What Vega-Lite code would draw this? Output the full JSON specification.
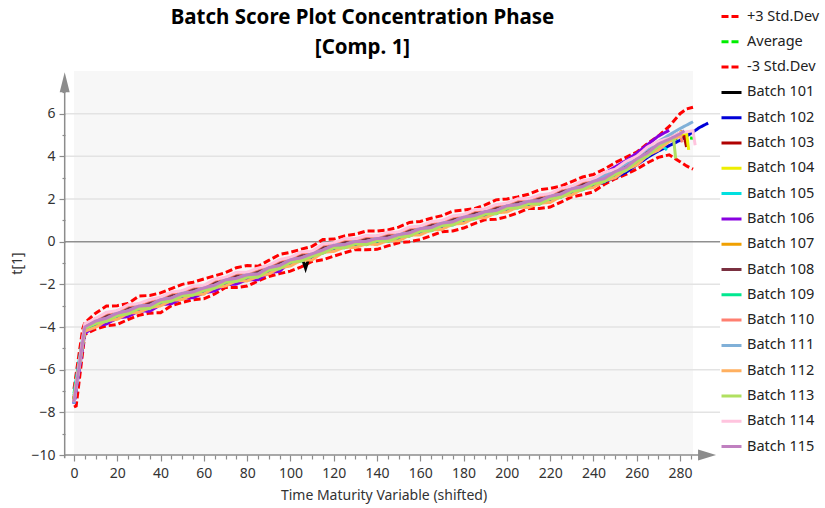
{
"$schema": "https://vega.github.io/schema/vega-lite/v6.json",
"width": 619, "height": 384,
"autosize": {"type": "none"},
"padding": {"left": 74, "top": 71, "right": 132, "bottom": 53},
"background": "#ffffff",
"config": {"view": {"fill": "#f7f7f7", "stroke": null}, "font": "Noto Sans"},
"title": {"text": ["Batch Score Plot Concentration Phase", "[Comp. 1]"], "font": "Noto Sans", "fontSize": 20.5, "fontWeight": "bold", "color": "#000000", "lineHeight": 30, "anchor": "middle", "dx": -21, "dy": 65, "offset": 12},
"resolve": {"axis": {"x": "independent", "y": "independent"}},
"datasets": {"s": [
{"t":0,"p":-6.9,"a":-7.35,"m":-7.75,"101":-7.4,"102":-7.6,"103":-7.3,"104":-7.5,"105":-7.1,"106":-7.6,"107":-7.4,"108":-7.5,"109":-7.2,"110":-7.5,"111":-7.6,"112":-7.3,"113":-7.4,"114":-7.5,"115":-7.5},
{"t":1,"m":-7.7},
{"t":4,"p":-4.1},
{"t":5,"p":-3.8,"a":-4.05,"m":-4.35,"101":-4.05,"102":-4.1,"103":-3.95,"104":-4.15,"105":-3.9,"106":-4.3,"107":-4.0,"108":-3.95,"109":-4.2,"110":-3.9,"111":-4.1,"112":-4.2,"113":-4.05,"114":-3.85,"115":-4.0},
{"t":10,"p":-3.35,"a":-3.75,"m":-4.1,"101":-3.64,"102":-3.95,"103":-3.65,"104":-3.78,"105":-3.66,"106":-3.95,"107":-3.82,"108":-3.62,"109":-3.84,"110":-3.65,"111":-3.7,"112":-4.01,"113":-3.83,"114":-3.6,"115":-3.72},
{"t":15,"p":-3.02,"a":-3.55,"m":-3.95,"101":-3.55,"102":-3.64,"103":-3.55,"104":-3.69,"105":-3.35,"106":-3.86,"107":-3.49,"108":-3.5,"109":-3.74,"110":-3.35,"111":-3.6,"112":-3.7,"113":-3.73,"114":-3.31,"115":-3.59},
{"t":20,"p":-3.0,"a":-3.38,"m":-3.88,"101":-3.27,"102":-3.58,"103":-3.28,"104":-3.41,"105":-3.29,"106":-3.58,"107":-3.45,"108":-3.25,"109":-3.47,"110":-3.28,"111":-3.33,"112":-3.64,"113":-3.46,"114":-3.23,"115":-3.35},
{"t":25,"p":-2.9,"a":-3.2,"m":-3.65,"101":-3.2,"102":-3.29,"103":-3.2,"104":-3.34,"105":-3.0,"106":-3.51,"107":-3.14,"108":-3.15,"109":-3.39,"110":-3.0,"111":-3.25,"112":-3.35,"113":-3.38,"114":-2.96,"115":-3.24},
{"t":30,"p":-2.55,"a":-3.05,"m":-3.45,"101":-2.94,"102":-3.25,"103":-2.95,"104":-3.08,"105":-2.96,"106":-3.25,"107":-3.12,"108":-2.92,"109":-3.14,"110":-2.95,"111":-3.0,"112":-3.31,"113":-3.13,"114":-2.9,"115":-3.02},
{"t":35,"p":-2.52,"a":-2.95,"m":-3.35,"101":-2.95,"102":-3.04,"103":-2.95,"104":-3.09,"105":-2.75,"106":-3.26,"107":-2.89,"108":-2.9,"109":-3.14,"110":-2.75,"111":-3.0,"112":-3.1,"113":-3.13,"114":-2.71,"115":-2.99},
{"t":40,"p":-2.4,"a":-2.75,"m":-3.33,"101":-2.64,"102":-2.95,"103":-2.65,"104":-2.78,"105":-2.66,"106":-2.95,"107":-2.82,"108":-2.62,"109":-2.84,"110":-2.65,"111":-2.7,"112":-3.01,"113":-2.83,"114":-2.6,"115":-2.72},
{"t":45,"p":-2.2,"a":-2.6,"m":-3.0,"101":-2.6,"102":-2.69,"103":-2.6,"104":-2.74,"105":-2.4,"106":-2.91,"107":-2.54,"108":-2.55,"109":-2.79,"110":-2.4,"111":-2.65,"112":-2.75,"113":-2.78,"114":-2.36,"115":-2.64},
{"t":50,"p":-2.0,"a":-2.45,"m":-2.85,"101":-2.34,"102":-2.65,"103":-2.35,"104":-2.48,"105":-2.36,"106":-2.65,"107":-2.52,"108":-2.32,"109":-2.54,"110":-2.35,"111":-2.4,"112":-2.71,"113":-2.53,"114":-2.3,"115":-2.42},
{"t":55,"p":-1.9,"a":-2.32,"m":-2.72,"101":-2.32,"102":-2.41,"103":-2.32,"104":-2.46,"105":-2.12,"106":-2.63,"107":-2.26,"108":-2.27,"109":-2.51,"110":-2.12,"111":-2.37,"112":-2.47,"113":-2.5,"114":-2.08,"115":-2.36},
{"t":60,"p":-1.75,"a":-2.2,"m":-2.68,"101":-2.09,"102":-2.4,"103":-2.1,"104":-2.23,"105":-2.11,"106":-2.4,"107":-2.27,"108":-2.07,"109":-2.29,"110":-2.1,"111":-2.15,"112":-2.46,"113":-2.28,"114":-2.05,"115":-2.17},
{"t":65,"p":-1.6,"a":-2.0,"m":-2.45,"101":-2.0,"102":-2.09,"103":-2.0,"104":-2.14,"105":-1.8,"106":-2.31,"107":-1.94,"108":-1.95,"109":-2.19,"110":-1.8,"111":-2.05,"112":-2.15,"113":-2.18,"114":-1.76,"115":-2.04},
{"t":70,"p":-1.45,"a":-1.82,"m":-2.15,"101":-1.71,"102":-2.02,"103":-1.72,"104":-1.85,"105":-1.73,"106":-2.02,"107":-1.89,"108":-1.69,"109":-1.91,"110":-1.72,"111":-1.77,"112":-2.08,"113":-1.9,"114":-1.67,"115":-1.79},
{"t":75,"p":-1.22,"a":-1.68,"m":-2.15,"101":-1.68,"102":-1.77,"103":-1.68,"104":-1.82,"105":-1.48,"106":-1.99,"107":-1.62,"108":-1.63,"109":-1.87,"110":-1.48,"111":-1.73,"112":-1.83,"113":-1.86,"114":-1.44,"115":-1.72},
{"t":80,"p":-1.12,"a":-1.58,"m":-2.08,"101":-1.47,"102":-1.78,"103":-1.48,"104":-1.61,"105":-1.49,"106":-1.78,"107":-1.65,"108":-1.45,"109":-1.67,"110":-1.48,"111":-1.53,"112":-1.84,"113":-1.66,"114":-1.43,"115":-1.55},
{"t":85,"p":-1.15,"a":-1.48,"m":-1.85,"101":-1.48,"102":-1.57,"103":-1.48,"104":-1.62,"105":-1.28,"106":-1.79,"107":-1.42,"108":-1.43,"109":-1.67,"110":-1.28,"111":-1.53,"112":-1.63,"113":-1.66,"114":-1.24,"115":-1.52},
{"t":90,"p":-0.88,"a":-1.25,"m":-1.63,"101":-1.14,"102":-1.45,"103":-1.15,"104":-1.28,"105":-1.16,"106":-1.45,"107":-1.32,"108":-1.12,"109":-1.34,"110":-1.15,"111":-1.2,"112":-1.51,"113":-1.33,"114":-1.1,"115":-1.22},
{"t":95,"p":-0.6,"a":-1.08,"m":-1.5,"101":-1.08,"102":-1.17,"103":-1.08,"104":-1.22,"105":-0.88,"106":-1.39,"107":-1.02,"108":-1.03,"109":-1.27,"110":-0.88,"111":-1.13,"112":-1.23,"113":-1.26,"114":-0.84,"115":-1.12},
{"t":100,"p":-0.5,"a":-0.88,"m":-1.38,"101":-0.77,"102":-1.08,"103":-0.78,"104":-0.91,"105":-0.79,"106":-0.93,"107":-0.95,"108":-0.75,"109":-0.97,"110":-0.78,"111":-0.83,"112":-1.14,"113":-0.96,"114":-0.73,"115":-0.85},
{"t":105,"p":-0.35,"a":-0.72,"m":-1.18,"101":-0.62,"102":-0.81,"103":-0.72,"104":-0.86,"105":-0.52,"106":-0.87,"107":-0.66,"108":-0.67,"109":-0.91,"110":-0.52,"111":-0.77,"112":-0.87,"113":-0.9,"114":-0.48,"115":-0.76},
{"t":107,"101":-1.25},
{"t":109,"101":-0.6},
{"t":110,"p":-0.22,"a":-0.6,"m":-0.93,"101":-0.49,"102":-0.8,"103":-0.5,"104":-0.63,"105":-0.51,"106":-0.65,"107":-0.67,"108":-0.47,"109":-0.69,"110":-0.5,"111":-0.55,"112":-0.86,"113":-0.68,"114":-0.45,"115":-0.57},
{"t":115,"p":0.1,"a":-0.35,"m":-0.85,"101":-0.35,"102":-0.44,"103":-0.35,"104":-0.49,"105":-0.15,"106":-0.5,"107":-0.29,"108":-0.3,"109":-0.54,"110":-0.15,"111":-0.4,"112":-0.5,"113":-0.53,"114":-0.11,"115":-0.39},
{"t":120,"p":0.12,"a":-0.2,"m":-0.68,"101":-0.09,"102":-0.4,"103":-0.1,"104":-0.23,"105":-0.11,"106":-0.25,"107":-0.27,"108":-0.07,"109":-0.29,"110":-0.1,"111":-0.15,"112":-0.46,"113":-0.28,"114":-0.05,"115":-0.17},
{"t":125,"p":0.27,"a":-0.1,"m":-0.52,"101":-0.1,"102":-0.19,"103":-0.1,"104":-0.24,"105":0.1,"106":-0.25,"107":-0.04,"108":-0.05,"109":-0.29,"110":0.1,"111":-0.15,"112":-0.25,"113":-0.28,"114":0.14,"115":-0.14},
{"t":130,"p":0.35,"a":-0.02,"m":-0.37,"101":0.09,"102":-0.22,"103":0.08,"104":-0.05,"105":0.07,"106":-0.17,"107":-0.09,"108":0.11,"109":-0.11,"110":0.08,"111":0.03,"112":-0.28,"113":-0.1,"114":0.13,"115":0.01},
{"t":135,"p":0.5,"a":0.05,"m":-0.38,"101":0.05,"102":-0.04,"103":0.05,"104":-0.09,"105":0.25,"106":-0.1,"107":0.11,"108":0.1,"109":-0.14,"110":0.25,"111":0.0,"112":-0.1,"113":-0.13,"114":0.29,"115":0.01},
{"t":140,"p":0.5,"a":0.12,"m":-0.36,"101":0.23,"102":-0.08,"103":0.22,"104":0.09,"105":0.21,"106":0.07,"107":0.05,"108":0.25,"109":0.03,"110":0.22,"111":0.17,"112":-0.14,"113":0.04,"114":0.27,"115":0.15},
{"t":145,"p":0.55,"a":0.2,"m":-0.2,"101":0.2,"102":0.11,"103":0.2,"104":0.06,"105":0.4,"106":0.15,"107":0.26,"108":0.25,"109":0.01,"110":0.4,"111":0.15,"112":0.05,"113":0.02,"114":0.44,"115":0.16},
{"t":150,"p":0.68,"a":0.3,"m":-0.05,"101":0.41,"102":0.1,"103":0.4,"104":0.27,"105":0.39,"106":0.35,"107":0.23,"108":0.43,"109":0.21,"110":0.4,"111":0.35,"112":0.04,"113":0.22,"114":0.45,"115":0.33},
{"t":155,"p":0.9,"a":0.45,"m":0.0,"101":0.45,"102":0.36,"103":0.45,"104":0.31,"105":0.65,"106":0.4,"107":0.51,"108":0.5,"109":0.26,"110":0.65,"111":0.4,"112":0.3,"113":0.27,"114":0.69,"115":0.41},
{"t":160,"p":0.95,"a":0.58,"m":0.1,"101":0.69,"102":0.38,"103":0.68,"104":0.55,"105":0.67,"106":0.63,"107":0.51,"108":0.71,"109":0.49,"110":0.68,"111":0.63,"112":0.32,"113":0.5,"114":0.73,"115":0.61},
{"t":165,"p":1.1,"a":0.7,"m":0.28,"101":0.7,"102":0.61,"103":0.7,"104":0.56,"105":0.9,"106":0.65,"107":0.76,"108":0.75,"109":0.51,"110":0.9,"111":0.65,"112":0.55,"113":0.52,"114":0.94,"115":0.66},
{"t":170,"p":1.22,"a":0.84,"m":0.47,"101":0.95,"102":0.64,"103":0.94,"104":0.81,"105":0.93,"106":0.89,"107":0.77,"108":0.97,"109":0.75,"110":0.94,"111":0.89,"112":0.58,"113":0.76,"114":0.99,"115":0.87},
{"t":175,"p":1.43,"a":0.97,"m":0.5,"101":0.97,"102":0.88,"103":0.97,"104":0.83,"105":1.17,"106":0.92,"107":1.03,"108":1.02,"109":0.78,"110":1.17,"111":0.92,"112":0.82,"113":0.79,"114":1.21,"115":0.93},
{"t":180,"p":1.48,"a":1.12,"m":0.64,"101":1.23,"102":0.92,"103":1.22,"104":1.09,"105":1.21,"106":1.17,"107":1.05,"108":1.25,"109":1.03,"110":1.22,"111":1.17,"112":0.86,"113":1.04,"114":1.27,"115":1.15},
{"t":185,"p":1.55,"a":1.26,"m":0.85,"101":1.26,"102":1.17,"103":1.26,"104":1.12,"105":1.46,"106":1.21,"107":1.32,"108":1.31,"109":1.07,"110":1.46,"111":1.21,"112":1.11,"113":1.08,"114":1.5,"115":1.22},
{"t":190,"p":1.72,"a":1.38,"m":1.03,"101":1.49,"102":1.18,"103":1.48,"104":1.35,"105":1.47,"106":1.43,"107":1.31,"108":1.51,"109":1.29,"110":1.48,"111":1.43,"112":1.12,"113":1.3,"114":1.53,"115":1.41},
{"t":195,"p":1.96,"a":1.5,"m":1.05,"101":1.5,"102":1.41,"103":1.5,"104":1.36,"105":1.7,"106":1.45,"107":1.56,"108":1.55,"109":1.31,"110":1.7,"111":1.45,"112":1.35,"113":1.32,"114":1.74,"115":1.46},
{"t":200,"p":2.0,"a":1.65,"m":1.17,"101":1.76,"102":1.45,"103":1.75,"104":1.62,"105":1.74,"106":1.7,"107":1.58,"108":1.78,"109":1.56,"110":1.75,"111":1.7,"112":1.39,"113":1.57,"114":1.8,"115":1.68},
{"t":205,"p":2.1,"a":1.77,"m":1.35,"101":1.77,"102":1.68,"103":1.77,"104":1.63,"105":1.97,"106":1.72,"107":1.83,"108":1.82,"109":1.58,"110":1.97,"111":1.72,"112":1.62,"113":1.59,"114":2.01,"115":1.73},
{"t":210,"p":2.22,"a":1.86,"m":1.55,"101":1.97,"102":1.66,"103":1.96,"104":1.83,"105":1.95,"106":1.91,"107":1.79,"108":1.99,"109":1.77,"110":1.96,"111":1.91,"112":1.6,"113":1.78,"114":2.01,"115":1.89},
{"t":215,"p":2.43,"a":1.95,"m":1.55,"101":1.95,"102":1.86,"103":1.95,"104":1.81,"105":2.15,"106":1.9,"107":2.01,"108":2.0,"109":1.76,"110":2.15,"111":1.9,"112":1.8,"113":1.77,"114":2.19,"115":1.91},
{"t":220,"p":2.5,"a":2.1,"m":1.62,"101":2.21,"102":1.9,"103":2.2,"104":2.07,"105":2.19,"106":2.15,"107":2.03,"108":2.23,"109":2.01,"110":2.2,"111":2.15,"112":1.84,"113":2.02,"114":2.25,"115":2.13},
{"t":225,"p":2.6,"a":2.27,"m":1.85,"101":2.27,"102":2.18,"103":2.27,"104":2.13,"105":2.47,"106":2.22,"107":2.33,"108":2.32,"109":2.08,"110":2.47,"111":2.22,"112":2.12,"113":2.09,"114":2.51,"115":2.23},
{"t":230,"p":2.82,"a":2.45,"m":2.1,"101":2.56,"102":2.25,"103":2.55,"104":2.42,"105":2.54,"106":2.5,"107":2.38,"108":2.58,"109":2.36,"110":2.55,"111":2.5,"112":2.19,"113":2.37,"114":2.6,"115":2.48},
{"t":235,"p":3.03,"a":2.62,"m":2.2,"101":2.62,"102":2.53,"103":2.62,"104":2.48,"105":2.82,"106":2.57,"107":2.68,"108":2.67,"109":2.43,"110":2.82,"111":2.57,"112":2.47,"113":2.44,"114":2.86,"115":2.58},
{"t":240,"p":3.15,"a":2.8,"m":2.34,"101":2.91,"102":2.6,"103":2.9,"104":2.77,"105":2.89,"106":2.88,"107":2.73,"108":2.93,"109":2.71,"110":2.9,"111":2.85,"112":2.54,"113":2.72,"114":2.95,"115":2.83},
{"t":245,"p":3.4,"a":3.04,"m":2.68,"101":3.0,"102":2.8,"103":3.0,"104":2.86,"105":3.2,"106":3.2,"107":3.06,"108":3.05,"109":2.81,"110":3.2,"111":3.08,"112":2.85,"113":2.82,"114":3.24,"115":2.96},
{"t":250,"p":3.7,"a":3.3,"m":2.95,"101":3.36,"102":3.0,"103":3.35,"104":3.22,"105":3.34,"106":3.5,"107":3.18,"108":3.38,"109":3.16,"110":3.35,"111":3.35,"112":2.99,"113":3.17,"114":3.4,"115":3.28},
{"t":255,"p":3.95,"a":3.55,"m":3.15,"101":3.52,"102":3.25,"103":3.52,"104":3.38,"105":3.72,"106":3.8,"107":3.58,"108":3.57,"109":3.33,"110":3.72,"111":3.65,"112":3.37,"113":3.34,"114":3.76,"115":3.48},
{"t":260,"p":4.2,"a":3.8,"m":3.4,"101":3.96,"102":3.6,"103":3.95,"104":3.82,"105":3.94,"106":4.15,"107":3.78,"108":3.98,"109":3.76,"110":3.95,"111":4.0,"112":3.59,"113":3.77,"114":4.0,"115":3.88},
{"t":265,"p":4.6,"a":4.15,"m":3.7,"101":4.2,"102":3.95,"103":4.2,"104":4.06,"105":4.4,"106":4.55,"107":4.26,"108":4.25,"109":4.01,"110":4.4,"111":4.35,"112":4.05,"113":4.02,"114":4.44,"115":4.16},
{"t":270,"p":4.95,"a":4.45,"m":3.95,"101":4.66,"102":4.25,"103":4.65,"104":4.52,"105":4.64,"106":4.95,"107":4.48,"108":4.68,"109":4.46,"110":4.65,"111":4.7,"112":4.29,"113":4.47,"114":4.7,"115":4.58},
{"t":274,"105":4.3},
{"t":275,"p":5.4,"a":4.73,"m":4.07,"101":4.8,"102":4.5,"103":4.82,"104":4.75,"106":5.22,"107":4.82,"108":4.85,"110":4.85,"111":5.0,"112":4.7,"113":4.78,"114":4.85,"115":4.8},
{"t":277,"113":4.85},
{"t":278,"113":3.9},
{"t":280,"p":6.0,"a":4.88,"m":3.75,"101":5.02,"102":4.75,"103":5.0,"104":5.0,"107":5.1,"108":5.05,"110":5.05,"111":5.3,"112":4.95,"114":5.1,"115":5.05},
{"t":281,"107":5.2,"110":4.66,"112":4.9},
{"t":282,"103":4.95,"115":5.2},
{"t":283,"p":6.22,"a":4.88,"m":3.55,"102":4.95,"103":4.44,"104":5.1},
{"t":284,"104":4.3},
{"t":286,"p":6.3,"a":4.85,"m":3.4,"102":5.14,"111":5.62,"114":5.2},
{"t":287,"114":4.52},
{"t":289,"102":5.35},
{"t":293,"102":5.56}
]},
"layer": [
{"data": {"values": [{"y":-8},{"y":-6},{"y":-4},{"y":-2},{"y":2},{"y":4},{"y":6}]},
 "mark": {"type": "rule", "color": "#e3e3e3", "strokeWidth": 1.5},
 "encoding": {
  "y": {"field": "y", "type": "quantitative", "scale": {"domain": [-10, 8], "nice": false, "zero": false},
   "axis": {"orient": "left", "title": null, "values": [-9,-7,-5,-3,-1,1,3,5,7], "labels": false, "domain": false, "grid": false, "offset": 9, "tickColor": "#8c8c8c", "tickWidth": 1.2, "tickSize": 3}},
  "x": {"datum": -4.3, "type": "quantitative", "scale": {"domain": [0, 286], "nice": false, "zero": false},
   "axis": {"orient": "bottom", "title": null, "values": [5,10,15,25,30,35,45,50,55,65,70,75,85,90,95,105,110,115,125,130,135,145,150,155,165,170,175,185,190,195,205,210,215,225,230,235,245,250,255,265,270,275,285], "labels": false, "domain": false, "grid": false, "tickColor": "#8c8c8c", "tickWidth": 1.2, "tickSize": 4}},
  "x2": {"datum": 298.5}}},
{"data": {"values": [{}]},
 "mark": {"type": "rule", "color": "#8f8f8f", "strokeWidth": 1.5},
 "encoding": {"y": {"datum": 0, "type": "quantitative", "axis": null}, "x": {"datum": -4.3, "type": "quantitative", "axis": null}, "x2": {"datum": 298.5}}},
{"data": {"name": "s"},
 "transform": [
  {"fold": ["p","a","m","101","102","103","104","105","106","107","108","109","110","111","112","113","114","115"], "as": ["k", "v"]},
  {"filter": "isValid(datum.v)"}],
 "mark": {"type": "line", "strokeWidth": 3},
 "encoding": {
  "x": {"field": "t", "type": "quantitative", "scale": {"domain": [0, 286], "nice": false, "zero": false},
   "axis": {"orient": "bottom", "title": "Time Maturity Variable (shifted)", "values": [0,20,40,60,80,100,120,140,160,180,200,220,240,260,280],
    "domain": false, "grid": false, "tickColor": "#8c8c8c", "tickWidth": 1.2, "tickSize": 6,
    "labelFont": "Noto Sans", "labelFontSize": 14, "labelColor": "#333333", "labelPadding": 5, "labelOverlap": false, "labelFlush": false,
    "titleFont": "Noto Sans", "titleFontSize": 14, "titleFontWeight": "normal", "titleColor": "#333333", "titlePadding": 8}},
  "y": {"field": "v", "type": "quantitative", "scale": {"domain": [-10, 8], "nice": false, "zero": false},
   "axis": {"orient": "left", "title": "t[1]", "values": [-10,-8,-6,-4,-2,0,2,4,6],
    "domain": false, "grid": false, "offset": 9, "tickColor": "#8c8c8c", "tickWidth": 1.2, "tickSize": 6,
    "labelFont": "Noto Sans", "labelFontSize": 14, "labelColor": "#333333", "labelPadding": 4, "labelOverlap": false, "labelFlush": false,
    "titleFont": "Noto Sans", "titleFontSize": 14, "titleFontWeight": "normal", "titleColor": "#333333", "titlePadding": 6}},
  "color": {"field": "k", "type": "nominal",
   "scale": {"domain": ["p","a","m","101","102","103","104","105","106","107","108","109","110","111","112","113","114","115"],
    "range": ["#ff0000","#00ee00","#ff0000","#000000","#0000d8","#b00000","#eeee00","#00e0e0","#8800e0","#f0a000","#7a3040","#00e890","#ff7f70","#80b0d8","#ffb060","#b0e060","#ffc4de","#c080c0"]},
   "legend": {"title": null, "orient": "none", "legendX": 646, "legendY": -66, "symbolType": "stroke", "symbolSize": 400, "symbolStrokeWidth": 3, "labelFont": "Noto Sans", "labelFontSize": 14.5, "labelColor": "#222222", "labelOffset": 4, "rowPadding": 7.3, "padding": 0,
    "labelExpr": "datum.label == 'p' ? '+3 Std.Dev' : datum.label == 'a' ? 'Average' : datum.label == 'm' ? '-3 Std.Dev' : 'Batch ' + datum.label"}},
  "strokeDash": {"field": "k", "type": "nominal",
   "scale": {"domain": ["p","a","m","101","102","103","104","105","106","107","108","109","110","111","112","113","114","115"],
    "range": [[7,3],[7,3],[7,3],[1,0],[1,0],[1,0],[1,0],[1,0],[1,0],[1,0],[1,0],[1,0],[1,0],[1,0],[1,0],[1,0],[1,0],[1,0]]},
   "legend": {"title": null, "orient": "none", "legendX": 646, "legendY": -66, "symbolType": "stroke", "symbolSize": 400, "symbolStrokeWidth": 3, "labelFont": "Noto Sans", "labelFontSize": 14.5, "labelColor": "#222222", "labelOffset": 4, "rowPadding": 7.3, "padding": 0,
    "labelExpr": "datum.label == 'p' ? '+3 Std.Dev' : datum.label == 'a' ? 'Average' : datum.label == 'm' ? '-3 Std.Dev' : 'Batch ' + datum.label"}}}},
{"data": {"values": [{}]},
 "mark": {"type": "rule", "color": "#8c8c8c", "strokeWidth": 1.5},
 "encoding": {"x": {"datum": -4.3, "type": "quantitative", "axis": null}, "y": {"datum": -10.15, "type": "quantitative", "axis": null}, "y2": {"datum": 7.2}}},
{"data": {"values": [{}]},
 "mark": {"type": "rule", "color": "#8c8c8c", "strokeWidth": 1.5},
 "encoding": {"x": {"datum": -4.3, "type": "quantitative", "axis": null}, "x2": {"datum": 289}, "y": {"datum": -10, "type": "quantitative", "axis": null}}},
{"data": {"values": [{}]},
 "mark": {"type": "point", "shape": "M-0.5,1L0,-1L0.5,1Z", "size": 400, "filled": true, "color": "#8c8c8c", "opacity": 1, "strokeWidth": 0},
 "encoding": {"x": {"datum": -4.3, "type": "quantitative", "axis": null}, "y": {"datum": 7.47, "type": "quantitative", "axis": null}}},
{"data": {"values": [{}]},
 "mark": {"type": "point", "shape": "M-1,-0.6L1,0L-1,0.6Z", "size": 324, "filled": true, "color": "#8c8c8c", "opacity": 1, "strokeWidth": 0},
 "encoding": {"x": {"datum": 292.5, "type": "quantitative", "axis": null}, "y": {"datum": -10, "type": "quantitative", "axis": null}}}
]
}
